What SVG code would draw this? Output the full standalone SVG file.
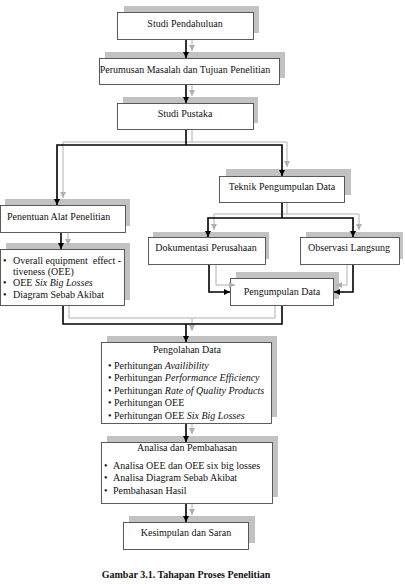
<svg xmlns="http://www.w3.org/2000/svg" width="405" height="584" viewBox="0 0 405 584">
<style>
  .sh{fill:#c2c2c2;stroke:none}
  .bx{fill:#ffffff;stroke:#4a4a4a;stroke-width:0.9}
  .t{font-family:"Liberation Serif","Times New Roman",serif;font-size:10px;fill:#111}
  .c{text-anchor:middle}
  .blk{fill:none;stroke:#000;stroke-width:1.6}
  .gry{fill:none;stroke:#b0b0b0;stroke-width:1}
  .cap{font-family:"Liberation Serif","Times New Roman",serif;font-size:10px;font-weight:bold;fill:#111;text-anchor:middle}
</style>
<defs>
  <marker id="ab" viewBox="0 0 10 10" refX="10" refY="5" markerWidth="4" markerHeight="4" markerUnits="strokeWidth" orient="auto">
    <path d="M0,0 L10,5 L0,10 Z" fill="#000"/>
  </marker>
  <marker id="ag" viewBox="0 0 10 10" refX="10" refY="5" markerWidth="6" markerHeight="6" markerUnits="strokeWidth" orient="auto">
    <path d="M0,0 L10,5 L0,10 Z" fill="#b0b0b0"/>
  </marker>
</defs>
<rect width="405" height="584" fill="#fff"/>

<g id="n1">
  <rect class="sh" x="124" y="6" width="135" height="27"/>
  <rect class="bx" x="117.5" y="12.5" width="136" height="27"/>
  <text class="t c" x="185" y="26.5">Studi Pendahuluan</text>
</g>
<g id="n2">
  <rect class="sh" x="105" y="52" width="180" height="26"/>
  <rect class="bx" x="99.5" y="58.5" width="180" height="26"/>
  <text class="t c" x="185" y="73">Perumusan Masalah dan Tujuan Penelitian</text>
</g>
<g id="n3">
  <rect class="sh" x="123" y="97" width="135" height="26"/>
  <rect class="bx" x="117.5" y="103.5" width="136" height="26"/>
  <text class="t c" x="185" y="117">Studi Pustaka</text>
</g>
<g id="n4">
  <rect class="sh" x="226" y="169" width="125" height="26"/>
  <rect class="bx" x="219.5" y="176.5" width="125" height="26"/>
  <text class="t c" x="282" y="189.5">Teknik Pengumpulan Data</text>
</g>
<g id="n5">
  <rect class="sh" x="5" y="199" width="125" height="27"/>
  <rect class="bx" x="0.5" y="205.5" width="125" height="27"/>
  <text class="t" x="7" y="219.5">Penentuan Alat Penelitian</text>
</g>
<g id="n6">
  <rect class="sh" x="6" y="243" width="124" height="57"/>
  <rect class="bx" x="0.5" y="249.5" width="124" height="56"/>
  <text class="t" x="3" y="263.5">•</text>
  <text class="t" x="13" y="263.5" xml:space="preserve">Overall equipment  effect -</text>
  <text class="t" x="13" y="274.5">tiveness (OEE)</text>
  <text class="t" x="3" y="286">•</text>
  <text class="t" x="13" y="286">OEE <tspan font-style="italic">Six Big Losses</tspan></text>
  <text class="t" x="3" y="297.5">•</text>
  <text class="t" x="13" y="297.5">Diagram Sebab Akibat</text>
</g>
<g id="n7">
  <rect class="sh" x="153" y="232" width="116" height="27"/>
  <rect class="bx" x="148.5" y="237.5" width="117" height="27"/>
  <text class="t c" x="206" y="251">Dokumentasi Perusahaan</text>
</g>
<g id="n8">
  <rect class="sh" x="306" y="232" width="97" height="27"/>
  <rect class="bx" x="300.5" y="237.5" width="99" height="27"/>
  <text class="t c" x="349" y="251">Observasi Langsung</text>
</g>
<g id="n9">
  <rect class="sh" x="236" y="272" width="103" height="27"/>
  <rect class="bx" x="230.5" y="278.5" width="103" height="27"/>
  <text class="t c" x="282" y="295">Pengumpulan Data</text>
</g>
<g id="n10">
  <rect class="sh" x="107" y="336" width="170" height="81"/>
  <rect class="bx" x="101.5" y="342.5" width="170" height="81"/>
  <text class="t c" x="187" y="353">Pengolahan Data</text>
  <text class="t" x="108" y="368.5">•</text>
  <text class="t" x="114" y="368.5">Perhitungan <tspan font-style="italic">Availibility</tspan></text>
  <text class="t" x="108" y="381">•</text>
  <text class="t" x="114" y="381">Perhitungan <tspan font-style="italic">Performance Efficiency</tspan></text>
  <text class="t" x="108" y="393.5">•</text>
  <text class="t" x="114" y="393.5">Perhitungan <tspan font-style="italic">Rate of Quality Products</tspan></text>
  <text class="t" x="108" y="405.5">•</text>
  <text class="t" x="114" y="405.5">Perhitungan OEE</text>
  <text class="t" x="108" y="419">•</text>
  <text class="t" x="114" y="419">Perhitungan OEE <tspan font-style="italic">Six Big Losses</tspan></text>
</g>
<g id="n11">
  <rect class="sh" x="107" y="436" width="171" height="61"/>
  <rect class="bx" x="101.5" y="442.5" width="171" height="61"/>
  <text class="t c" x="187" y="451">Analisa dan Pembahasan</text>
  <text class="t" x="104" y="469">•</text>
  <text class="t" x="113" y="469">Analisa OEE dan OEE six big losses</text>
  <text class="t" x="104" y="481">•</text>
  <text class="t" x="113" y="481">Analisa Diagram Sebab Akibat</text>
  <text class="t" x="104" y="493.5">•</text>
  <text class="t" x="113" y="493.5">Pembahasan Hasil</text>
</g>
<g id="n12">
  <rect class="sh" x="129" y="516" width="126" height="27"/>
  <rect class="bx" x="123.5" y="522.5" width="125" height="27"/>
  <text class="t c" x="186" y="536">Kesimpulan dan Saran</text>
</g>

<g id="connectors">
  <g>
    <path class="gry" d="M192,40 V51" marker-end="url(#ag)"/>
    <path class="gry" d="M192,85 V96" marker-end="url(#ag)"/>
    <path class="gry" d="M192,130 V142 H63 V198" marker-end="url(#ag)"/>
    <path class="gry" d="M192,142 H287 V167" marker-end="url(#ag)"/>
    <path class="gry" d="M68,233 V245" marker-end="url(#ag)"/>
    <path class="gry" d="M287,203 V214 H214 V230" marker-end="url(#ag)"/>
    <path class="gry" d="M287,214 H359 V230" marker-end="url(#ag)"/>
    <path class="gry" d="M216,265 V285 H235" marker-end="url(#ag)"/>
    <path class="gry" d="M347,265 V285 H336" marker-end="url(#ag)"/>
    <path class="gry" d="M69,306 V318 H275 V306"/>
    <path class="gry" d="M192,318 V331" marker-end="url(#ag)"/>
    <path class="gry" d="M192,424 V434" marker-end="url(#ag)"/>
    <path class="gry" d="M192,504 V515" marker-end="url(#ag)"/>
  </g>
  <g>
    <path class="blk" d="M186,40 V58" marker-end="url(#ab)"/>
    <path class="blk" d="M186,85 V103" marker-end="url(#ab)"/>
    <path class="blk" d="M186,130 V145"/>
    <path class="blk" d="M186,145 H57 V205" marker-end="url(#ab)"/>
    <path class="blk" d="M186,145 H282 V176" marker-end="url(#ab)"/>
    <path class="blk" d="M61,233 V249" marker-end="url(#ab)"/>
    <path class="blk" d="M282,203 V218"/>
    <path class="blk" d="M282,218 H208 V237" marker-end="url(#ab)"/>
    <path class="blk" d="M282,218 H353 V237" marker-end="url(#ab)"/>
    <path class="blk" d="M209,265 V292 H230" marker-end="url(#ab)"/>
    <path class="blk" d="M353,265 V292 H334" marker-end="url(#ab)"/>
    <path class="blk" d="M63,306 V324 H282 V306"/>
    <path class="blk" d="M186,324 V342" marker-end="url(#ab)"/>
    <path class="blk" d="M186,424 V442" marker-end="url(#ab)"/>
    <path class="blk" d="M186,504 V522" marker-end="url(#ab)"/>
  </g>
</g>

<text class="cap" x="186" y="578">Gambar 3.1. Tahapan Proses Penelitian</text>
</svg>
